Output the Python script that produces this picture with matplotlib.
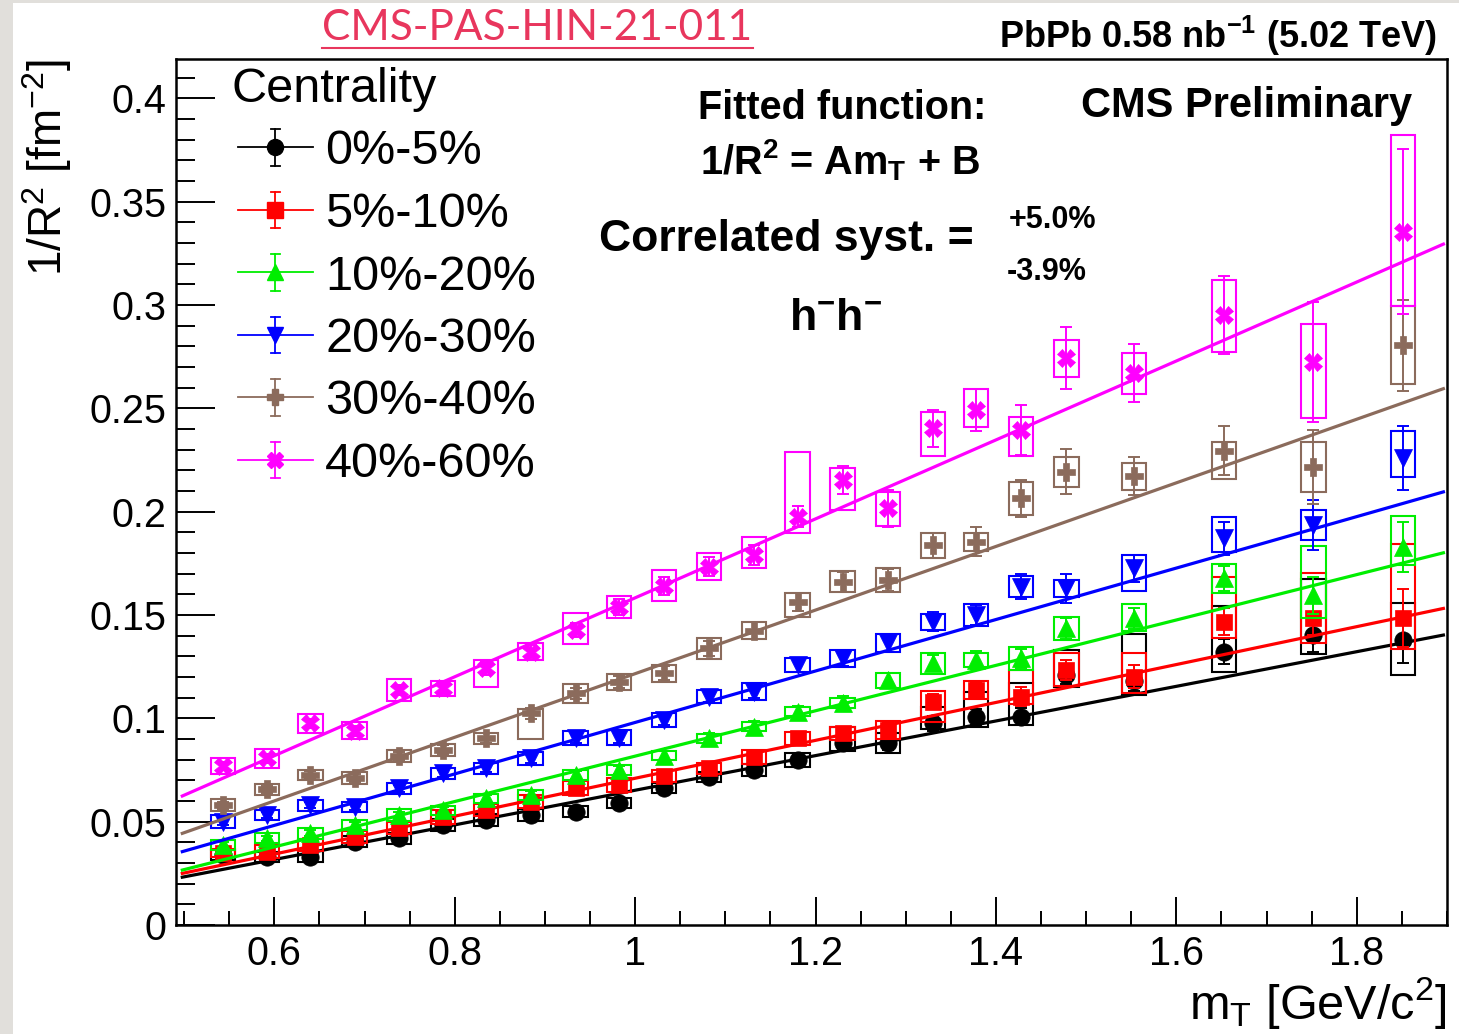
import matplotlib
matplotlib.use('Agg')
import matplotlib.pyplot as plt
from matplotlib.lines import Line2D
from matplotlib.patches import Rectangle
from matplotlib.legend_handler import HandlerBase
from matplotlib.ticker import MultipleLocator, FuncFormatter
import numpy as np

# ---------------- data ----------------
mT = [0.543, 0.592, 0.640, 0.689, 0.738, 0.787, 0.835, 0.884, 0.934, 0.982, 1.032, 1.082,
      1.132, 1.180, 1.230, 1.280, 1.330, 1.378, 1.428, 1.478, 1.553, 1.653, 1.752, 1.851]

labels = ['0%-5%', '5%-10%', '10%-20%', '20%-30%', '30%-40%', '40%-60%']

y_c0 = [0.0339, 0.0330, 0.0330, 0.0403, 0.0419, 0.0484, 0.0508, 0.0532, 0.0548, 0.0589, 0.0661, 0.0717,
        0.0750, 0.0798, 0.0879, 0.0879, 0.0976, 0.1008, 0.1008, 0.1210, 0.1180, 0.1322, 0.1403, 0.1379]
y_c1 = [0.0347, 0.0355, 0.0387, 0.0427, 0.0468, 0.0524, 0.0556, 0.0597, 0.0661, 0.0677, 0.0722, 0.0758,
        0.0814, 0.0903, 0.0927, 0.0943, 0.1080, 0.1137, 0.1105, 0.1234, 0.1201, 0.1467, 0.1484, 0.1484]
y_c2 = [0.0387, 0.0419, 0.0444, 0.0484, 0.0532, 0.0556, 0.0613, 0.0629, 0.0726, 0.0750, 0.0818, 0.0903,
        0.0959, 0.1032, 0.1075, 0.1185, 0.1266, 0.1282, 0.1290, 0.1435, 0.1484, 0.1677, 0.1596, 0.1830]
y_c3 = [0.0500, 0.0532, 0.0580, 0.0572, 0.0661, 0.0734, 0.0758, 0.0806, 0.0903, 0.0903, 0.0992, 0.1105,
        0.1129, 0.1258, 0.1290, 0.1363, 0.1467, 0.1500, 0.1637, 0.1629, 0.1726, 0.1871, 0.1935, 0.2258]
y_c4 = [0.0580, 0.0656, 0.0726, 0.0710, 0.0818, 0.0847, 0.0903, 0.1024, 0.1121, 0.1177, 0.1218, 0.1339,
        0.1424, 0.1564, 0.1661, 0.1669, 0.1838, 0.1854, 0.2064, 0.2193, 0.2172, 0.2295, 0.2217, 0.2806]
y_c5 = [0.0769, 0.0806, 0.0976, 0.0940, 0.1137, 0.1145, 0.1242, 0.1322, 0.1427, 0.1540, 0.1641, 0.1733,
        0.1790, 0.1975, 0.2153, 0.2016, 0.2403, 0.2491, 0.2395, 0.2742, 0.2669, 0.2951, 0.2725, 0.3354]

stat_c0 = [0.0012, 0.0012, 0.0012, 0.0013, 0.0013, 0.0014, 0.0015, 0.0016, 0.0017, 0.0018, 0.0020, 0.0022,
           0.0024, 0.0026, 0.0030, 0.0032, 0.0035, 0.0038, 0.0040, 0.0045, 0.0050, 0.0060, 0.0080, 0.0110]
stat_c1 = [0.0013, 0.0013, 0.0013, 0.0014, 0.0014, 0.0015, 0.0016, 0.0017, 0.0018, 0.0019, 0.0021, 0.0023,
           0.0025, 0.0028, 0.0030, 0.0033, 0.0036, 0.0040, 0.0045, 0.0050, 0.0055, 0.0065, 0.0080, 0.0140]
stat_c2 = [0.0013, 0.0013, 0.0014, 0.0014, 0.0015, 0.0016, 0.0017, 0.0018, 0.0019, 0.0020, 0.0022, 0.0024,
           0.0026, 0.0029, 0.0032, 0.0035, 0.0038, 0.0042, 0.0047, 0.0050, 0.0050, 0.0060, 0.0090, 0.0120]
stat_c3 = [0.0015, 0.0015, 0.0016, 0.0016, 0.0017, 0.0018, 0.0019, 0.0020, 0.0022, 0.0024, 0.0026, 0.0028,
           0.0030, 0.0033, 0.0036, 0.0040, 0.0045, 0.0050, 0.0060, 0.0070, 0.0065, 0.0080, 0.0120, 0.0155]
stat_c4 = [0.0017, 0.0018, 0.0019, 0.0020, 0.0021, 0.0022, 0.0024, 0.0026, 0.0028, 0.0030, 0.0033, 0.0036,
           0.0040, 0.0044, 0.0048, 0.0052, 0.0060, 0.0070, 0.0090, 0.0110, 0.0090, 0.0120, 0.0180, 0.0220]
stat_c5 = [0.0020, 0.0021, 0.0022, 0.0024, 0.0026, 0.0028, 0.0030, 0.0032, 0.0035, 0.0038, 0.0042, 0.0046,
           0.0050, 0.0050, 0.0070, 0.0090, 0.0090, 0.0100, 0.0120, 0.0150, 0.0140, 0.0190, 0.0290, 0.0400]

sys_lo_c0 = [0.0025, 0.0024, 0.0027, 0.0026, 0.0028, 0.0028, 0.0028, 0.0028, 0.0026, 0.0024, 0.0024, 0.0024,
             0.0030, 0.0032, 0.0036, 0.0048, 0.0030, 0.0050, 0.0040, 0.0057, 0.0067, 0.0100, 0.0090, 0.0170]
sys_hi_c0 = [0.0025, 0.0024, 0.0027, 0.0026, 0.0028, 0.0028, 0.0028, 0.0028, 0.0026, 0.0024, 0.0024, 0.0024,
             0.0030, 0.0032, 0.0080, 0.0048, 0.0080, 0.0120, 0.0164, 0.0120, 0.0230, 0.0220, 0.0270, 0.0180]
sys_lo_c1 = [0.0020, 0.0030, 0.0030, 0.0030, 0.0030, 0.0034, 0.0030, 0.0030, 0.0034, 0.0034, 0.0028, 0.0026,
             0.0034, 0.0030, 0.0030, 0.0044, 0.0096, 0.0045, 0.0035, 0.0080, 0.0080, 0.0080, 0.0120, 0.0150]
sys_hi_c1 = [0.0020, 0.0030, 0.0030, 0.0030, 0.0030, 0.0034, 0.0030, 0.0030, 0.0034, 0.0034, 0.0028, 0.0026,
             0.0034, 0.0030, 0.0030, 0.0044, 0.0050, 0.0045, 0.0130, 0.0080, 0.0114, 0.0215, 0.0220, 0.0360]
sys_lo_c2 = [0.0026, 0.0024, 0.0026, 0.0023, 0.0028, 0.0022, 0.0021, 0.0026, 0.0024, 0.0024, 0.0022, 0.0022,
             0.0022, 0.0023, 0.0024, 0.0036, 0.0052, 0.0036, 0.0054, 0.0055, 0.0060, 0.0070, 0.0110, 0.0090]
sys_hi_c2 = [0.0026, 0.0024, 0.0026, 0.0023, 0.0028, 0.0022, 0.0021, 0.0026, 0.0024, 0.0024, 0.0022, 0.0022,
             0.0022, 0.0023, 0.0024, 0.0036, 0.0052, 0.0036, 0.0054, 0.0055, 0.0070, 0.0070, 0.0240, 0.0150]
sys_lo_c3 = [0.0030, 0.0024, 0.0027, 0.0024, 0.0027, 0.0026, 0.0028, 0.0030, 0.0034, 0.0032, 0.0032, 0.0032,
             0.0040, 0.0035, 0.0040, 0.0044, 0.0038, 0.0054, 0.0050, 0.0042, 0.0110, 0.0065, 0.0073, 0.0090]
sys_hi_c3 = [0.0030, 0.0024, 0.0027, 0.0024, 0.0027, 0.0026, 0.0028, 0.0030, 0.0034, 0.0040, 0.0032, 0.0032,
             0.0040, 0.0035, 0.0040, 0.0044, 0.0038, 0.0054, 0.0050, 0.0042, 0.0064, 0.0104, 0.0073, 0.0130]
sys_lo_c4 = [0.0028, 0.0027, 0.0026, 0.0028, 0.0030, 0.0030, 0.0026, 0.0126, 0.0046, 0.0038, 0.0042, 0.0050,
             0.0042, 0.0075, 0.0052, 0.0060, 0.0060, 0.0045, 0.0078, 0.0073, 0.0065, 0.0137, 0.0120, 0.0190]
sys_hi_c4 = [0.0028, 0.0027, 0.0026, 0.0028, 0.0030, 0.0030, 0.0026, 0.0020, 0.0046, 0.0038, 0.0042, 0.0050,
             0.0042, 0.0040, 0.0052, 0.0060, 0.0060, 0.0045, 0.0078, 0.0073, 0.0065, 0.0040, 0.0120, 0.0190]
sys_lo_c5 = [0.0037, 0.0047, 0.0045, 0.0040, 0.0055, 0.0036, 0.0090, 0.0040, 0.0067, 0.0056, 0.0075, 0.0065,
             0.0064, 0.0080, 0.0145, 0.0084, 0.0133, 0.0083, 0.0127, 0.0090, 0.0100, 0.0180, 0.0270, 0.0360]
sys_hi_c5 = [0.0037, 0.0047, 0.0045, 0.0040, 0.0055, 0.0036, 0.0040, 0.0040, 0.0084, 0.0050, 0.0075, 0.0065,
             0.0086, 0.0315, 0.0057, 0.0077, 0.0080, 0.0100, 0.0065, 0.0090, 0.0100, 0.0170, 0.0185, 0.0470]

# fit parameters 1/R^2 = A*mT + B
fit_A = [0.0838, 0.0917, 0.1098, 0.1245, 0.1539, 0.1910]
fit_B = [-0.0186, -0.0207, -0.0281, -0.0265, -0.0323, -0.0327]
fit_range = [0.498, 1.896]

x_ticks = [0.6, 0.8, 1.0, 1.2, 1.4, 1.6, 1.8]
y_ticks = [0, 0.05, 0.1, 0.15, 0.2, 0.25, 0.3, 0.35, 0.4]

# ---------------- style ----------------
colors = ['#000000', '#ff0000', '#00ee00', '#0000ff', '#8b6b5c', '#ff00ff']
markers = ['o', 's', '^', 'v', 'P', 'X']
msizes = [12.5, 12, 13, 13, 12.5, 12.5]
BOXW = 0.027

W, H, DPI = 1459, 1034, 100
plt.rcParams['font.family'] = ['Liberation Sans', 'DejaVu Sans']
plt.rcParams['mathtext.fontset'] = 'custom'
plt.rcParams['mathtext.rm'] = 'Liberation Sans'
plt.rcParams['mathtext.it'] = 'Liberation Sans:italic'
plt.rcParams['mathtext.bf'] = 'Liberation Sans:bold'

fig = plt.figure(figsize=(W / DPI, H / DPI), dpi=DPI, facecolor='white')


def fx(px):
    return px / W


def fy(py):
    return 1 - py / H


# slide border (gray strips)
fig.add_artist(Rectangle((0, 0), fx(13), 1, transform=fig.transFigure, color='#e1dfdb', lw=0, zorder=0))
fig.add_artist(Rectangle((0, fy(3)), 1, 1 - fy(3), transform=fig.transFigure, color='#e1dfdb', lw=0, zorder=0))

ax = fig.add_axes([fx(176), fy(925), fx(1447) - fx(176), fy(59) - fy(925)])
ax.set_xlim(0.491, 1.900)
ax.set_ylim(0, 0.419)

series_y = [y_c0, y_c1, y_c2, y_c3, y_c4, y_c5]
series_stat = [stat_c0, stat_c1, stat_c2, stat_c3, stat_c4, stat_c5]
series_lo = [sys_lo_c0, sys_lo_c1, sys_lo_c2, sys_lo_c3, sys_lo_c4, sys_lo_c5]
series_hi = [sys_hi_c0, sys_hi_c1, sys_hi_c2, sys_hi_c3, sys_hi_c4, sys_hi_c5]

for i in range(6):
    col = colors[i]
    z = 2 + i * 4
    for xv, yv, lo, hi in zip(mT, series_y[i], series_lo[i], series_hi[i]):
        ax.add_patch(Rectangle((xv - BOXW / 2, yv - lo), BOXW, lo + hi, fill=False,
                               edgecolor=col, lw=1.5, zorder=z))
    ax.errorbar(mT, series_y[i], yerr=series_stat[i], fmt='none', ecolor=col,
                elinewidth=1.4, capsize=4.5, capthick=1.4, zorder=z + 1)
    ax.plot(mT, series_y[i], ls='none', marker=markers[i], ms=msizes[i], color=col,
            mec=col, mew=0.5, zorder=z + 2)
    xs = np.array(fit_range)
    ax.plot(xs, fit_A[i] * xs + fit_B[i], color=col, lw=2.3, zorder=z + 3)

# axes style
for s in ['left', 'bottom', 'top', 'right']:
    ax.spines[s].set_linewidth(1.8)
ax.xaxis.set_major_locator(plt.FixedLocator(x_ticks))
ax.xaxis.set_minor_locator(MultipleLocator(0.05))
ax.yaxis.set_major_locator(plt.FixedLocator(y_ticks))
ax.yaxis.set_minor_locator(MultipleLocator(0.01))
fmt = FuncFormatter(lambda v, p: f'{v:g}')
ax.xaxis.set_major_formatter(fmt)
ax.yaxis.set_major_formatter(fmt)
ax.tick_params(axis='y', which='major', direction='in', length=28, width=1.4, labelsize=28.5, pad=7)
ax.tick_params(axis='y', which='minor', direction='in', length=14, width=1.4)
ax.tick_params(axis='x', which='major', direction='in', length=20, width=1.4, labelsize=28.5, pad=7)
ax.tick_params(axis='x', which='minor', direction='in', length=10, width=1.4)

ax.set_xlabel(r'm$_{\mathrm{T}}$ [GeV/c$^{2}$]', fontsize=35, loc='right')
ax.set_ylabel(r'1/R$^{2}$ [fm$^{-2}$]', fontsize=33, loc='top')
ax.xaxis.set_label_coords(1.0, -0.058)
ax.yaxis.set_label_coords(-0.08, 1.0)


# legend with ROOT-like entries
class EntryHandler(HandlerBase):
    def create_artists(self, legend, orig_handle, xdescent, ydescent, width, height, fontsize, trans):
        col = orig_handle.get_color()
        mk = orig_handle.get_marker()
        ms = orig_handle.get_markersize()
        y = height / 2 - ydescent
        x0, x1 = -xdescent + 4, width - xdescent + 4
        xm = (x0 + x1) / 2
        e, c = 13, 3.2
        arts = [Line2D([x0, x1], [y, y], color=col, lw=1.3),
                Line2D([xm, xm], [y - e, y + e], color=col, lw=1.3),
                Line2D([xm - c, xm + c], [y + e, y + e], color=col, lw=1.3),
                Line2D([xm - c, xm + c], [y - e, y - e], color=col, lw=1.3),
                Line2D([xm], [y], marker=mk, ms=ms, color=col, ls='none')]
        for a in arts:
            a.set_transform(trans)
        return arts


handles = [Line2D([], [], color=colors[i], marker=markers[i], ms=msizes[i] - 1) for i in range(6)]
leg = ax.legend(handles, labels, handler_map={Line2D: EntryHandler()},
                loc='upper left', bbox_to_anchor=(fx(232), fy(67)), bbox_transform=fig.transFigure,
                frameon=False, fontsize=35, title='Centrality', title_fontsize=35, alignment='left',
                handlelength=1.56, handletextpad=0.36, labelspacing=0.36, borderpad=0, borderaxespad=0)

# texts
title_col = '#e8365d'
fig.text(fx(537), fy(28), 'CMS-PAS-HIN-21-011', color=title_col, fontsize=30.5,
         family=['Lato', 'DejaVu Sans'], ha='center', va='center')
fig.add_artist(Line2D([fx(322), fx(753)], [fy(48), fy(48)], color=title_col, lw=1.5,
                      transform=fig.transFigure))
fig.text(fx(1437), fy(36), r'PbPb 0.58 nb$^{\mathbf{-1}}$ (5.02 TeV)', fontsize=26,
         fontweight='bold', ha='right', va='center')
fig.text(fx(1247), fy(106), 'CMS Preliminary', fontsize=30, fontweight='bold', ha='center', va='center')
fig.text(fx(842), fy(108), 'Fitted function:', fontsize=28.5, fontweight='bold', ha='center', va='center')
fig.text(fx(840), fy(160), r'1/R$^{\mathbf{2}}$ = Am$_{\mathbf{T}}$ + B', fontsize=28.5,
         fontweight='bold', ha='center', va='center')
fig.text(fx(786), fy(240), 'Correlated syst. =', fontsize=32, fontweight='bold', ha='center', va='center')
fig.text(fx(1052), fy(220), '+5.0%', fontsize=22, fontweight='bold', ha='center', va='center')
fig.text(fx(1047), fy(272), '-3.9%', fontsize=22, fontweight='bold', ha='center', va='center')
fig.text(fx(836), fy(318), r'h$^{\mathbf{-}}$h$^{\mathbf{-}}$', fontsize=32, fontweight='bold',
         ha='center', va='center')

fig.savefig('out.png', dpi=DPI, facecolor='white')
